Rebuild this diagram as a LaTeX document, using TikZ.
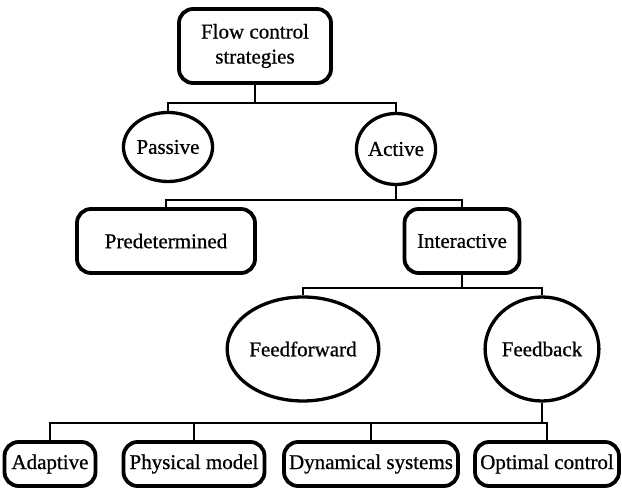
\documentclass[tikz,border=0pt]{standalone}
\usepackage{fontspec}
\setmainfont[FakeBold=0.7]{Liberation Serif}
\usepackage{tikz}
\usetikzlibrary{shapes.geometric}

\tikzset{
  box/.style={draw, line width=3.8pt, rounded corners=14pt, align=center, inner sep=0pt},
  ring/.style={draw, ellipse, line width=3.3pt, inner sep=0pt},
  link/.style={line width=2.4pt},
}

\begin{document}
\begin{tikzpicture}[x=1pt,y=1pt,font=\fontsize{21}{25}\selectfont]
\useasboundingbox (0,0) rectangle (622,493);
%\draw (0,0) grid (622,493);

\node [box, minimum width=152, minimum height=74] (strat) at (255,447) {Flow control\\strategies};

\node [ring, minimum width=76, minimum height=69] (passive) at (168,346) {Passive};
\node [ring, minimum width=71, minimum height=71] (active) at (396,344) {Active};

\node [box, minimum width=178, minimum height=64] (predet) at (166,252) {Predetermined};
\node [box, minimum width=115, minimum height=64] (inter) at (462,252) {Interactive};

\node [ring, minimum width=113, minimum height=104] (feedfwd) at (303,144) {Feedforward};
\node [ring, minimum width=107, minimum height=104] (feedback) at (542,144) {Feedback};

\node [box, minimum width=91, minimum height=44] (adapt) at (50,29) {Adaptive};
\node [box, minimum width=141, minimum height=44] (phys) at (194,29) {Physical model};
\node [box, minimum width=174, minimum height=44] (dyn) at (371,29) {Dynamical systems};
\node [box, minimum width=144, minimum height=44] (optim) at (547,29) {Optimal control};

% levels of the tree
\coordinate (lvl1) at (0,390);
\coordinate (lvl2) at (0,293);
\coordinate (lvl3) at (0,205);
\coordinate (lvl4) at (0,70);

\draw [link] (strat.south) -- (strat.south |- lvl1) -| (passive.north);
\draw [link] (strat.south |- lvl1) -| (active.north);

\draw [link] (active.south) -- (active.south |- lvl2) -| (predet.north);
\draw [link] (active.south |- lvl2) -| (inter.north);

\draw [link] (inter.south) -- (inter.south |- lvl3) -| (feedfwd.north);
\draw [link] (inter.south |- lvl3) -| (feedback.north);

\draw [link] (feedback.south) -- (feedback.south |- lvl4) -| (adapt.north);
\draw [link] (feedback.south |- lvl4) -| (phys.north); \draw [link] (feedback.south |- lvl4) -| (dyn.north); \draw [link] (feedback.south |- lvl4) -| (optim.north);
\end{tikzpicture}
\end{document}
